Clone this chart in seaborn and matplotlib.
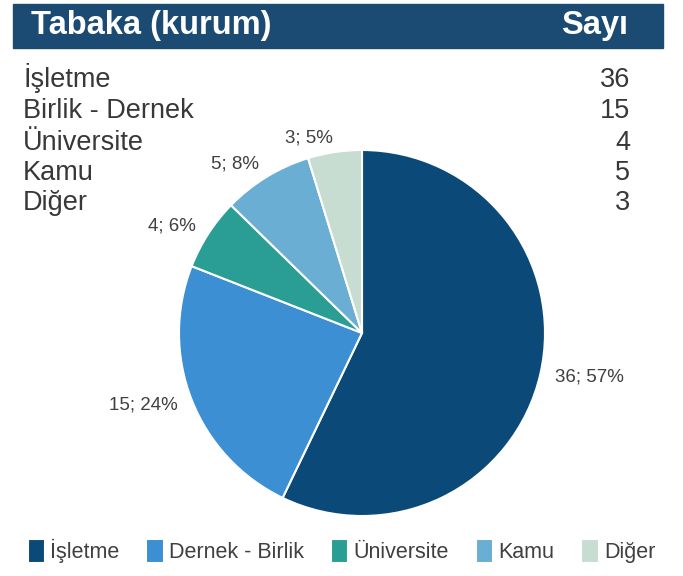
import matplotlib
matplotlib.use("Agg")
import matplotlib.pyplot as plt
import seaborn as sns
from matplotlib.patches import Rectangle

# ---- data ----
table_labels = ["İşletme", "Birlik - Dernek", "Üniversite", "Kamu", "Diğer"]
table_counts = [36, 15, 4, 5, 3]
legend_labels = ["İşletme", "Dernek - Birlik", "Üniversite", "Kamu", "Diğer"]
pie_values = [36, 15, 4, 5, 3]
pie_pcts = [57, 24, 6, 8, 5]
colors = ["#0b4a78", "#3b8fd2", "#2a9e95", "#6aaed3", "#c8ddd2"]
header_left = "Tabaka (kurum)"
header_right = "Sayı"

sns.set_theme(style="white")
plt.rcParams["font.family"] = ["Liberation Sans", "DejaVu Sans"]

fig = plt.figure(figsize=(6.83, 5.76), dpi=100)
W, H = 683, 576

# header bar
fig.patches.append(Rectangle((13 / W, 1 - 48 / H), (663 - 13) / W, 44 / H,
                             transform=fig.transFigure, color="#1b4a72", zorder=0))
fig.text(31 / W, 1 - 34 / H, header_left, color="white", fontsize=23.5,
         fontweight="bold", va="baseline", ha="left")
fig.text(628 / W, 1 - 34 / H, header_right, color="white", fontsize=23.5,
         fontweight="bold", va="baseline", ha="right")

# table rows
row_y = [87, 118, 150, 180, 210]
for lab, cnt, y in zip(table_labels, table_counts, row_y):
    fig.text(23 / W, 1 - y / H, lab, color="#383838", fontsize=19.5, va="baseline", ha="left")
    fig.text(630 / W, 1 - y / H, str(cnt), color="#383838", fontsize=19.5, va="baseline", ha="right")

# pie
cx, cy, r = 362, 333, 183
ax = fig.add_axes([(cx - r) / W, 1 - (cy + r) / H, 2 * r / W, 2 * r / H])
labels = [f"{v}; {p}%" for v, p in zip(pie_values, pie_pcts)]
wedges, texts = ax.pie(pie_values, colors=colors, startangle=90, counterclock=False,
                       labels=labels, labeldistance=1.08,
                       wedgeprops=dict(edgecolor="white", linewidth=1.5),
                       textprops=dict(color="#404040", fontsize=13.5))
ax.set_xlim(-1, 1)
ax.set_ylim(-1, 1)
ax.set_aspect("equal")

fig.legend(wedges, legend_labels, loc="center", bbox_to_anchor=(0.5, 1 - 551 / H),
           ncol=5, frameon=False, fontsize=15.5, handlelength=0.8, handleheight=1.4,
           handletextpad=0.25, columnspacing=1.25, labelcolor="#404040",
           borderpad=0, borderaxespad=0)

fig.savefig("out.png", dpi=100, facecolor="white")
